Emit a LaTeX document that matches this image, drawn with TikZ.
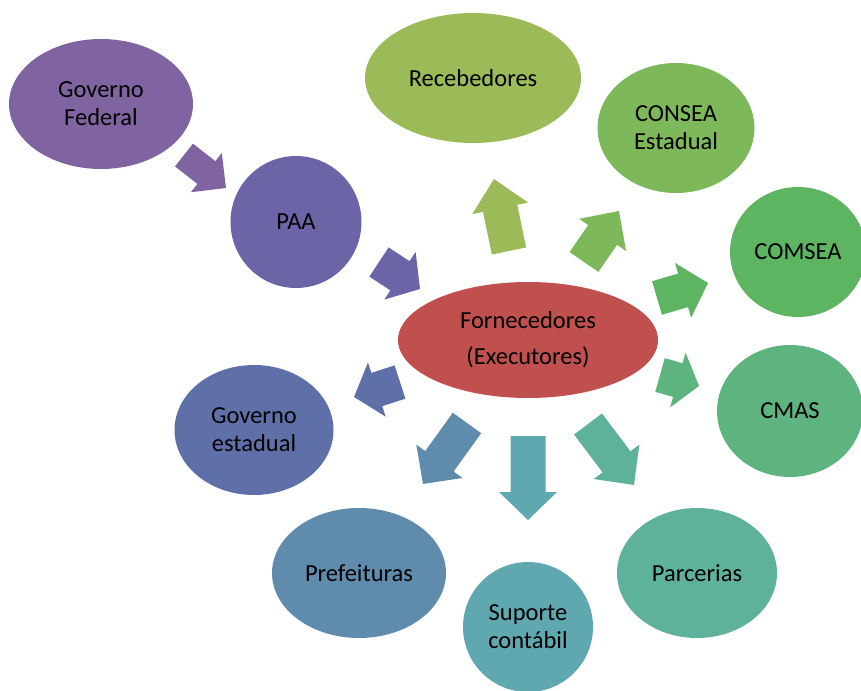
\documentclass[tikz,border=0pt]{standalone}
\usepackage{fontspec}
\setmainfont{Carlito}
\usetikzlibrary{shapes.geometric,calc}
\definecolor{cGF}{HTML}{8064A2}
\definecolor{cPAA}{HTML}{6B65A8}
\definecolor{cRec}{HTML}{9BBB59}
\definecolor{cCon}{HTML}{7DB95B}
\definecolor{cCom}{HTML}{5DB562}
\definecolor{cCmas}{HTML}{5DB47F}
\definecolor{cForn}{HTML}{C0504D}
\definecolor{cGE}{HTML}{5F70A8}
\definecolor{cPref}{HTML}{5F8BAD}
\definecolor{cSup}{HTML}{5FA8B0}
\definecolor{cParc}{HTML}{5EB29B}
% #1 start coord, #2 tip coord, #3 colour, #4 shaft width, #5 head width, #6 head length
\newcommand{\blockarr}[6]{%
  \path[fill=#3] let \p1=(#1), \p2=(#2),
    \n1={atan2(\y2-\y1,\x2-\x1)}, \n2={veclen(\x2-\x1,\y2-\y1)} in
    [shift={(\p1)}, rotate=\n1]
    (0,{-#4/2}) -- ({\n2-#6},{-#4/2}) -- ({\n2-#6},{-#5/2}) -- ({\n2},0)
    -- ({\n2-#6},{#5/2}) -- ({\n2-#6},{#4/2}) -- (0,{#4/2}) -- cycle;}
\begin{document}
\begin{tikzpicture}[x=1pt,y=-1pt,
  bubble/.style={ellipse, inner sep=0pt, align=center, text=black,
    font=\fontsize{24.5}{28}\selectfont}]
\useasboundingbox (0,0) rectangle (861,690);
% ellipses
\node[bubble, fill=cGF, minimum width=184, minimum height=130] (gf) at (101,104) {Governo\\Federal};
\node[bubble, fill=cPAA, minimum width=131, minimum height=132] (paa) at (296,222) {PAA};
\node[bubble, fill=cRec, minimum width=216, minimum height=130] (rec) at (473,78) {Recebedores};
\node[bubble, fill=cCon, minimum width=157, minimum height=130] (con) at (676,128) {CONSEA\\Estadual};
\node[bubble, fill=cCom, minimum width=136, minimum height=130] (com) at (798,252) {COMSEA};
\node[bubble, fill=cForn, minimum width=260, minimum height=116,
  font=\fontsize{24.5}{36}\selectfont] (forn) at (528,340) {Fornecedores\\(Executores)};
\node[bubble, fill=cGE, minimum width=159, minimum height=130] (ge) at (254,430) {Governo\\estadual};
\node[bubble, fill=cCmas, minimum width=146, minimum height=132] (cmas) at (790,411) {CMAS};
\node[bubble, fill=cPref, minimum width=174, minimum height=130] (pref) at (359,573) {Prefeituras};
\node[bubble, fill=cSup, minimum width=130, minimum height=130] (sup) at (528,627) {Suporte\\contábil};
\node[bubble, fill=cParc, minimum width=160, minimum height=130] (parc) at (697,573) {Parcerias};
% arrow end points
\coordinate (a1s) at (184,155);  \coordinate (a1e) at (226,188);
\coordinate (a2s) at (379,262);  \coordinate (a2e) at (420,289);
\coordinate (a3s) at (509,251);  \coordinate (a3e) at (494,179);
\coordinate (a4s) at (584,262);  \coordinate (a4e) at (619,211);
\coordinate (a5s) at (657,298);  \coordinate (a5e) at (708,283);
\coordinate (a6s) at (660,375);  \coordinate (a6e) at (699,386);
\coordinate (a7s) at (400,382);  \coordinate (a7e) at (354,397);
\coordinate (a8s) at (467,423);  \coordinate (a8e) at (423,484);
\coordinate (a9s) at (528,436);  \coordinate (a9e) at (528,520);
\coordinate (a10s) at (588,424); \coordinate (a10e) at (634,485);
\blockarr{a1s}{a1e}{cGF}{29}{50}{25}
\blockarr{a2s}{a2e}{cPAA}{35}{57}{24}
\blockarr{a3s}{a3e}{cRec}{35}{57}{30}
\blockarr{a4s}{a4e}{cCon}{35}{57}{29}
\blockarr{a5s}{a5e}{cCom}{35}{57}{26}
\blockarr{a6s}{a6e}{cCmas}{35}{57}{22}
\blockarr{a7s}{a7e}{cGE}{35}{57}{24}
\blockarr{a8s}{a8e}{cPref}{35}{57}{28}
\blockarr{a9s}{a9e}{cSup}{35}{58}{28}
\blockarr{a10s}{a10e}{cParc}{35}{57}{29}
\end{tikzpicture}
\end{document}
